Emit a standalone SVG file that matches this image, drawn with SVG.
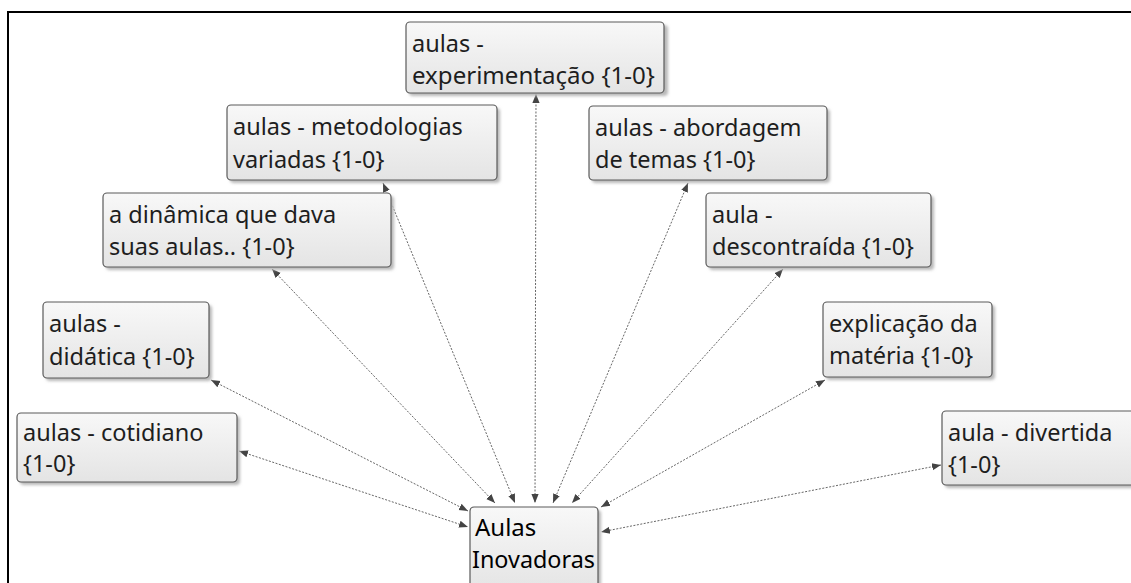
<svg xmlns="http://www.w3.org/2000/svg" width="1131" height="583" viewBox="0 0 1131 583">
<style>
.box{fill:url(#g);stroke:#5a5a5a;stroke-width:1.2}
.sh{fill:#b8b8b8;filter:url(#blur)}
.t{font-family:"Noto Sans","Open Sans",sans-serif;font-size:23.5px;fill:#1e1e1e}
.tc{font-family:"Noto Sans","Open Sans",sans-serif;font-size:24px;fill:#000}
.c{stroke:#666;stroke-width:1;stroke-dasharray:2,1.5;fill:none;marker-start:url(#a);marker-end:url(#a)}
</style>
<defs>
<linearGradient id="g" x1="0" y1="0" x2="0" y2="1"><stop offset="0" stop-color="#f8f8f8"/><stop offset="1" stop-color="#e4e4e4"/></linearGradient>
<filter id="blur" x="-10%" y="-10%" width="130%" height="130%"><feGaussianBlur stdDeviation="1.5"/></filter>
<marker id="a" viewBox="0 0 10 10" refX="10" refY="5" markerWidth="9" markerHeight="9" markerUnits="userSpaceOnUse" orient="auto-start-reverse"><path d="M0,1 L10,5 L0,9 Z" fill="#444"/></marker>
</defs>
<rect width="1131" height="583" fill="#fff"/>
<path d="M8,583 V12 H1131" fill="none" stroke="#000" stroke-width="2"/>
<g id="connectors">
<line class="c" x1="536" y1="94" x2="535" y2="503"/>
<line class="c" x1="383" y1="183" x2="515" y2="503"/>
<line class="c" x1="272" y1="269" x2="495" y2="503"/>
<line class="c" x1="211" y1="380" x2="468" y2="511"/>
<line class="c" x1="239" y1="451" x2="468" y2="527"/>
<line class="c" x1="688" y1="183" x2="553" y2="503"/>
<line class="c" x1="783" y1="269" x2="572" y2="503"/>
<line class="c" x1="825" y1="380" x2="601" y2="507"/>
<line class="c" x1="941" y1="465" x2="601" y2="532"/>
</g>
<g id="n-experimentacao">
<rect class="sh" x="409" y="25" width="259" height="71" rx="4"/>
<rect class="box" x="406" y="22" width="258" height="71" rx="4"/>
<text class="t" x="412" y="52">aulas -</text>
<text class="t" x="412" y="84" textLength="243" lengthAdjust="spacingAndGlyphs">experimentação {1-0}</text>
</g>
<g id="n-metodologias">
<rect class="sh" x="230" y="108" width="270" height="75" rx="4"/>
<rect class="box" x="227" y="105" width="270" height="75" rx="4"/>
<text class="t" x="233" y="135">aulas - metodologias</text>
<text class="t" x="233" y="168">variadas {1-0}</text>
</g>
<g id="n-abordagem">
<rect class="sh" x="592" y="109" width="238" height="74" rx="4"/>
<rect class="box" x="589" y="106" width="238" height="74" rx="4"/>
<text class="t" x="595" y="136">aulas - abordagem</text>
<text class="t" x="595" y="168">de temas {1-0}</text>
</g>
<g id="n-dinamica">
<rect class="sh" x="106" y="196" width="288" height="74" rx="4"/>
<rect class="box" x="103" y="193" width="288" height="74" rx="4"/>
<text class="t" x="109" y="223">a dinâmica que dava</text>
<text class="t" x="109" y="255">suas aulas.. {1-0}</text>
</g>
<g id="n-descontraida">
<rect class="sh" x="709" y="196" width="225" height="74" rx="4"/>
<rect class="box" x="706" y="193" width="225" height="74" rx="4"/>
<text class="t" x="712" y="223">aula -</text>
<text class="t" x="712" y="255">descontraída {1-0}</text>
</g>
<g id="n-didatica">
<rect class="sh" x="46" y="305" width="166" height="76" rx="4"/>
<rect class="box" x="43" y="302" width="166" height="76" rx="4"/>
<text class="t" x="49" y="332">aulas -</text>
<text class="t" x="49" y="365">didática {1-0}</text>
</g>
<g id="n-explicacao">
<rect class="sh" x="826" y="305" width="169" height="75" rx="4"/>
<rect class="box" x="823" y="302" width="169" height="75" rx="4"/>
<text class="t" x="829" y="332">explicação da</text>
<text class="t" x="829" y="364">matéria {1-0}</text>
</g>
<g id="n-cotidiano">
<rect class="sh" x="20" y="416" width="220" height="69" rx="4"/>
<rect class="box" x="17" y="413" width="220" height="69" rx="4"/>
<text class="t" x="23" y="441">aulas - cotidiano</text>
<text class="t" x="23" y="472">{1-0}</text>
</g>
<g id="n-divertida">
<rect class="sh" x="945" y="414" width="200" height="74" rx="4"/>
<rect class="box" x="942" y="411" width="200" height="74" rx="4"/>
<text class="t" x="948" y="441">aula - divertida</text>
<text class="t" x="948" y="473">{1-0}</text>
</g>
<g id="n-center">
<rect class="sh" x="473" y="510" width="128" height="85" rx="4"/>
<rect class="box" x="470" y="507" width="128" height="85" rx="4"/>
<text class="tc" x="475" y="536">Aulas</text>
<text class="tc" x="472" y="568" textLength="123" lengthAdjust="spacingAndGlyphs">Inovadoras</text>
</g>
</svg>
